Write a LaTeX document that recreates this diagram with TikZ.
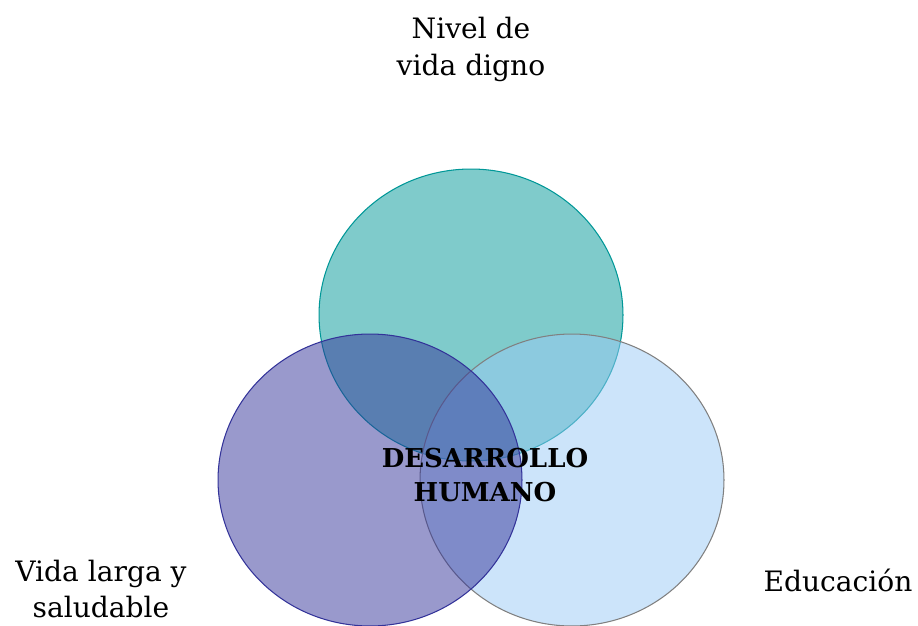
\documentclass[tikz,border=0pt]{standalone}
\usepackage{fontspec}
\setmainfont{DejaVu Serif}
\usetikzlibrary{positioning,shapes}
\definecolor{tealring}{RGB}{0,151,151}
\definecolor{navyring}{RGB}{51,51,153}
\definecolor{skyring}{RGB}{153,201,245}
\tikzstyle{ring} = [ellipse, minimum width=6.08cm, minimum height=5.84cm, inner sep=0pt, fill opacity=0.5, line width=0.6pt]
\tikzstyle{outtext} = [font=\fontsize{16}{21}\selectfont, align=center, text=black]
\tikzstyle{core} = [font=\bfseries\fontsize{14.8}{19.8}\selectfont, align=center, text=black]
\begin{document}
\begin{tikzpicture}[x=0.02cm, y=-0.02cm]
\useasboundingbox (0,0) rectangle (918,625);
\node (nivel) [ring, draw=tealring, fill=tealring] at (471,315) {};
\node (educ) [ring, draw=gray, fill=skyring] at (572,480) {};
\node (vida) [ring, draw=navyring, fill=navyring] at (370,480) {};
\node (core) [core] at (485,475) {DESARROLLO\\HUMANO};
\node (niveltxt) [outtext] at (471,49) {Nivel de\\vida digno};
\node (vidatxt) [outtext] at (101,589) {Vida larga y\\saludable};
\node (eductxt) [outtext] at (838,580) {Educación};
\end{tikzpicture}
\end{document}
